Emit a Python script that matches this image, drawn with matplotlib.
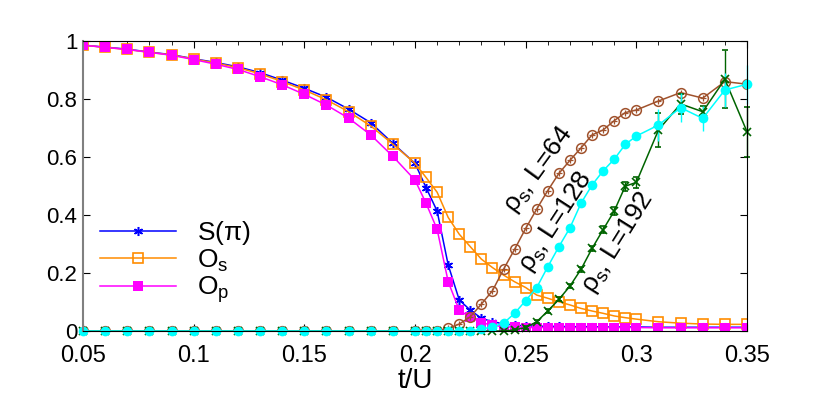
import numpy as np
import matplotlib
matplotlib.use('Agg')
import matplotlib.pyplot as plt
from matplotlib.ticker import MultipleLocator, FuncFormatter

plt.rcParams['font.family'] = ['Liberation Sans', 'DejaVu Sans']
plt.rcParams['mathtext.fontset'] = 'custom'
plt.rcParams['mathtext.rm'] = 'Liberation Sans'
plt.rcParams['mathtext.it'] = 'Liberation Sans'

# t/U grid
t_U = [0.05, 0.06, 0.07, 0.08, 0.09, 0.10, 0.11, 0.12, 0.13, 0.14, 0.15, 0.16, 0.17, 0.18, 0.19, 0.20,
       0.205, 0.21, 0.215, 0.22, 0.225, 0.23, 0.235, 0.24, 0.245, 0.25, 0.255, 0.26, 0.265, 0.27,
       0.275, 0.28, 0.285, 0.29, 0.295, 0.30,
       0.31, 0.32, 0.33, 0.34, 0.35]

S_pi = [0.987, 0.980, 0.973, 0.963, 0.954, 0.940, 0.927, 0.912, 0.892, 0.866, 0.838, 0.807, 0.766, 0.719, 0.648, 0.579,
        0.495, 0.414, 0.228, 0.107, 0.072, 0.044, 0.032, 0.025, 0.020, 0.018, 0.017, 0.016, 0.016, 0.015,
        0.015, 0.015, 0.014, 0.014, 0.014, 0.014,
        0.013, 0.013, 0.013, 0.013, 0.013]

O_s = [0.987, 0.979, 0.972, 0.962, 0.953, 0.939, 0.925, 0.909, 0.888, 0.861, 0.832, 0.798, 0.757, 0.708, 0.645, 0.579,
       0.530, 0.479, 0.392, 0.334, 0.291, 0.248, 0.219, 0.193, 0.170, 0.150, 0.124, 0.113, 0.101, 0.090,
       0.078, 0.069, 0.061, 0.052, 0.046, 0.041,
       0.032, 0.027, 0.024, 0.023, 0.023]

O_p = [0.987, 0.979, 0.972, 0.962, 0.952, 0.937, 0.921, 0.903, 0.878, 0.850, 0.817, 0.780, 0.735, 0.677, 0.603, 0.521,
       0.441, 0.351, 0.170, 0.072, 0.047, 0.029, 0.020, 0.015, 0.013, 0.012, 0.012, 0.012, 0.012, 0.012,
       0.012, 0.012, 0.012, 0.012, 0.012, 0.012,
       0.011, 0.011, 0.011, 0.011, 0.011]

rho_64 = [0, 0, 0, 0, 0, 0, 0, 0, 0, 0, 0, 0, 0, 0, 0, 0,
          0, 0, 0.009, 0.024, 0.049, 0.093, 0.139, 0.213, 0.282, 0.354, 0.421, 0.485, 0.544, 0.589,
          0.632, 0.677, 0.694, 0.726, 0.754, 0.763,
          0.794, 0.823, 0.804, 0.861, 0.852]

rho_128 = [0, 0, 0, 0, 0, 0, 0, 0, 0, 0, 0, 0, 0, 0, 0, 0,
           0, 0, 0, 0, 0, 0.006, 0.015, 0.027, 0.061, 0.105, 0.150, 0.222, 0.291, 0.356,
           0.441, 0.504, 0.553, 0.593, 0.644, 0.673,
           0.711, 0.771, 0.734, 0.832, 0.852]
err_128 = [0, 0, 0, 0, 0, 0, 0, 0, 0, 0, 0, 0, 0, 0, 0, 0,
           0, 0, 0, 0, 0, 0.002, 0.003, 0.003, 0.004, 0.004, 0.005, 0.005, 0.006, 0.006,
           0.007, 0.007, 0.008, 0.008, 0.009, 0.010,
           0.055, 0.050, 0.043, 0.058, 0.067]

rho_192 = [0, 0, 0, 0, 0, 0, 0, 0, 0, 0, 0, 0, 0, 0, 0, 0,
           0, 0, 0, 0, 0, 0, 0, 0, 0.004, 0.012, 0.032, 0.069, 0.109, 0.155,
           0.213, 0.285, 0.350, 0.414, 0.500, 0.513,
           0.694, 0.784, 0.757, 0.869, 0.688]
err_192 = [0, 0, 0, 0, 0, 0, 0, 0, 0, 0, 0, 0, 0, 0, 0, 0,
           0, 0, 0, 0, 0, 0, 0, 0, 0.003, 0.005, 0.006, 0.006, 0.007, 0.008,
           0.009, 0.010, 0.012, 0.014, 0.015, 0.018,
           0.058, 0.035, 0.020, 0.100, 0.086]

fig = plt.figure(figsize=(8.3, 4.15), dpi=100)
ax = fig.add_axes([0.1, 0.2024, 0.8, 0.698])

lw = 1.1
ax.plot(t_U, S_pi, color='#0000ff', lw=lw, marker=(6, 2, 0), ms=6.5, mew=1.1,
        label=r'S($\mathregular{\pi}$)')
ax.plot(t_U, O_s, color='#ff8c00', lw=lw, marker='s', ms=6.5, mfc='none', mew=1.2,
        label=r'O$_\mathregular{s}$')
ax.plot(t_U, O_p, color='#ff00ff', lw=lw, marker='s', ms=6.5, mew=0,
        label=r'O$_\mathregular{p}$')

# rho_s, L=64 : circle with plus
ax.plot(t_U, rho_64, color='#a0522d', lw=lw, marker='o', ms=7, mfc='none', mew=1.1)
ax.plot(t_U, rho_64, color='#a0522d', lw=0, marker='+', ms=5, mew=0.9)

ax.errorbar(t_U, rho_192, yerr=err_192, color='#006400', lw=lw, marker='x', ms=6, mew=1.2,
            capsize=2.5, elinewidth=1, clip_on=False)
ax.errorbar(t_U, rho_128, yerr=err_128, color='#00ffff', lw=lw, marker='o', ms=7, mew=0,
            capsize=2.5, elinewidth=1, clip_on=False)

ax.text(0.2556, 0.556, r'$\rho_\mathregular{s}$, L=64', rotation=54, fontsize=19,
        ha='center', va='center', rotation_mode='anchor')
ax.text(0.2637, 0.376, r'$\rho_\mathregular{s}$, L=128', rotation=57, fontsize=19,
        ha='center', va='center', rotation_mode='anchor')
ax.text(0.2917, 0.307, r'$\rho_\mathregular{s}$, L=192', rotation=58, fontsize=19,
        ha='center', va='center', rotation_mode='anchor')

ax.set_xlim(0.05, 0.35)
ax.set_ylim(0, 1)
ax.xaxis.set_major_locator(MultipleLocator(0.05))
ax.xaxis.set_minor_locator(MultipleLocator(0.01))
ax.yaxis.set_major_locator(MultipleLocator(0.2))
ax.xaxis.set_major_formatter(FuncFormatter(lambda v, p: ('%.2f' % v).rstrip('0').rstrip('.')))
ax.yaxis.set_major_formatter(FuncFormatter(lambda v, p: ('%.1f' % v).rstrip('0').rstrip('.')))
ax.tick_params(which='both', direction='in', top=True, right=True)
ax.tick_params(which='major', length=5)
ax.tick_params(which='minor', length=3)
ax.tick_params(axis='x', pad=10, labelsize=17)
ax.tick_params(axis='y', pad=4, labelsize=16)
ax.spines['left'].set_color('#808080')
ax.spines['left'].set_linewidth(1.5)
ax.set_xlabel('t/U', fontsize=20, labelpad=1)

ax.legend(loc='center left', bbox_to_anchor=(0.025, 0.238), frameon=False, fontsize=19,
          handlelength=2.9, handletextpad=0.8, labelspacing=0.02, borderpad=0, borderaxespad=0)

fig.savefig('out.png', dpi=100)
